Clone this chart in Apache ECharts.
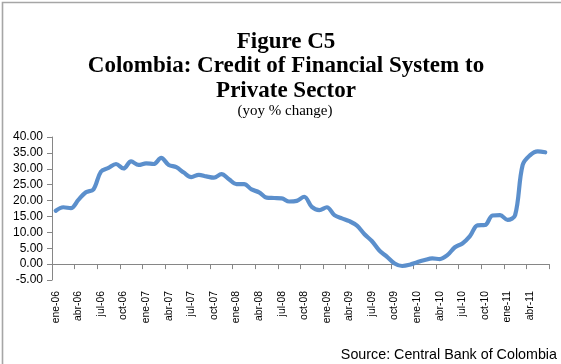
<!DOCTYPE html>
<html>
<head>
<meta charset="utf-8">
<script src="https://cdn.jsdelivr.net/npm/echarts@6/dist/echarts.min.js"></script>
<style>
  html, body { margin: 0; padding: 0; background: #fff; }
  #chart { width: 561px; height: 364px; }
</style>
</head>
<body>
<div id="chart"></div>
<script>
// Monthly categories, January 2006 to June 2011 (Spanish month abbreviations)
const monthNames = ['ene','feb','mar','abr','may','jun','jul','ago','sep','oct','nov','dic'];
const years = ['06','07','08','09','10','11'];
const lastMonthOfFinalYear = 6;
const categories = [];
years.forEach((yy, yi) => {
  const n = yi === years.length - 1 ? lastMonthOfFinalYear : 12;
  for (let m = 0; m < n; m++) categories.push(monthNames[m] + '-' + yy);
});

// Credit of the financial system to the private sector, yoy % change
const creditGrowth = [
  16.8, 17.9, 17.6, 20.2, 22.6, 23.5, 29.1, 30.3, 31.5, 30.1, 32.3, 31.2,
  31.7, 31.5, 33.4, 31.2, 30.5, 28.8, 27.4, 28.1, 27.6, 27.2, 28.3, 26.7,
  25.2, 25.2, 23.5, 22.6, 20.9, 20.8, 20.7, 19.7, 19.9, 21.2, 18.0, 17.0,
  17.9, 15.4, 14.4, 13.5, 12.1, 9.4, 7.2, 4.2, 2.3, 0.2, -0.6, -0.2,
  0.6, 1.3, 1.8, 1.6, 2.8, 5.3, 6.5, 8.8, 12.2, 12.3, 15.3, 15.4,
  13.9, 15.4, 31.2, 34.3, 35.5, 35.2
];

// Value axis range and step
const yMin = -5, yMax = 40, yStep = 5;

const titleLines = ['Figure C5', 'Colombia: Credit of Financial System to', 'Private Sector'];
const subtitleText = '(yoy % change)';
const sourceText = 'Source: Central Bank of Colombia';

const chart = echarts.init(document.getElementById('chart'), null, { renderer: 'canvas' });

const serif = '"Liberation Serif", "Times New Roman", serif';
const sans = '"Liberation Sans", Arial, sans-serif';

const titleStyle = { fontFamily: serif, fontWeight: 'bold', fontSize: 23, color: '#000' };
const titleCenter = 286;

chart.setOption({
  backgroundColor: '#ffffff',
  animation: false,
  title: [
    { text: titleLines[0], left: titleCenter, top: 31, textAlign: 'center', padding: 0, textStyle: titleStyle },
    { text: titleLines[1], left: titleCenter, top: 55, textAlign: 'center', padding: 0, textStyle: titleStyle },
    { text: titleLines[2], left: titleCenter, top: 80, textAlign: 'center', padding: 0, textStyle: titleStyle },
    { text: subtitleText, left: titleCenter - 1, top: 104, textAlign: 'center', padding: 0,
      textStyle: { fontFamily: serif, fontWeight: 'normal', fontSize: 15, color: '#000' } }
  ],
  graphic: [
    { type: 'polyline', silent: true,
      shape: { points: [[2.5, 364], [2.5, 2.5], [561, 2.5]] },
      style: { stroke: '#a6a6a6', lineWidth: 1.6, fill: null } },
    { type: 'text', right: 4, top: 348, silent: true,
      style: { text: sourceText, fontFamily: sans, fontSize: 14.3, fill: '#000' } }
  ],
  grid: { left: 52, right: 12, top: 137, bottom: 84, containLabel: false },
  xAxis: {
    type: 'category',
    data: categories,
    boundaryGap: true,
    axisLine: { onZero: true, lineStyle: { color: '#868686', width: 1 } },
    axisTick: { show: true, interval: 2, length: 5, inside: false, lineStyle: { color: '#868686' } },
    axisLabel: {
      interval: 2, rotate: 90, margin: 11,
      fontFamily: sans, fontSize: 10.4, color: '#000'
    },
    splitLine: { show: false }
  },
  yAxis: {
    type: 'value',
    min: yMin, max: yMax, interval: yStep,
    axisLine: { show: true, lineStyle: { color: '#868686', width: 1 } },
    axisTick: { show: true, length: 5, lineStyle: { color: '#868686' } },
    axisLabel: {
      margin: 9, fontFamily: sans, fontSize: 12, color: '#000',
      formatter: v => v.toFixed(2)
    },
    splitLine: { show: false }
  },
  series: [{
    type: 'line',
    data: creditGrowth,
    smooth: 0.35,
    showSymbol: false,
    symbol: 'none',
    lineStyle: { color: '#5b8fcc', width: 4.2, cap: 'round', join: 'round' }
  }]
});
</script>
</body>
</html>
